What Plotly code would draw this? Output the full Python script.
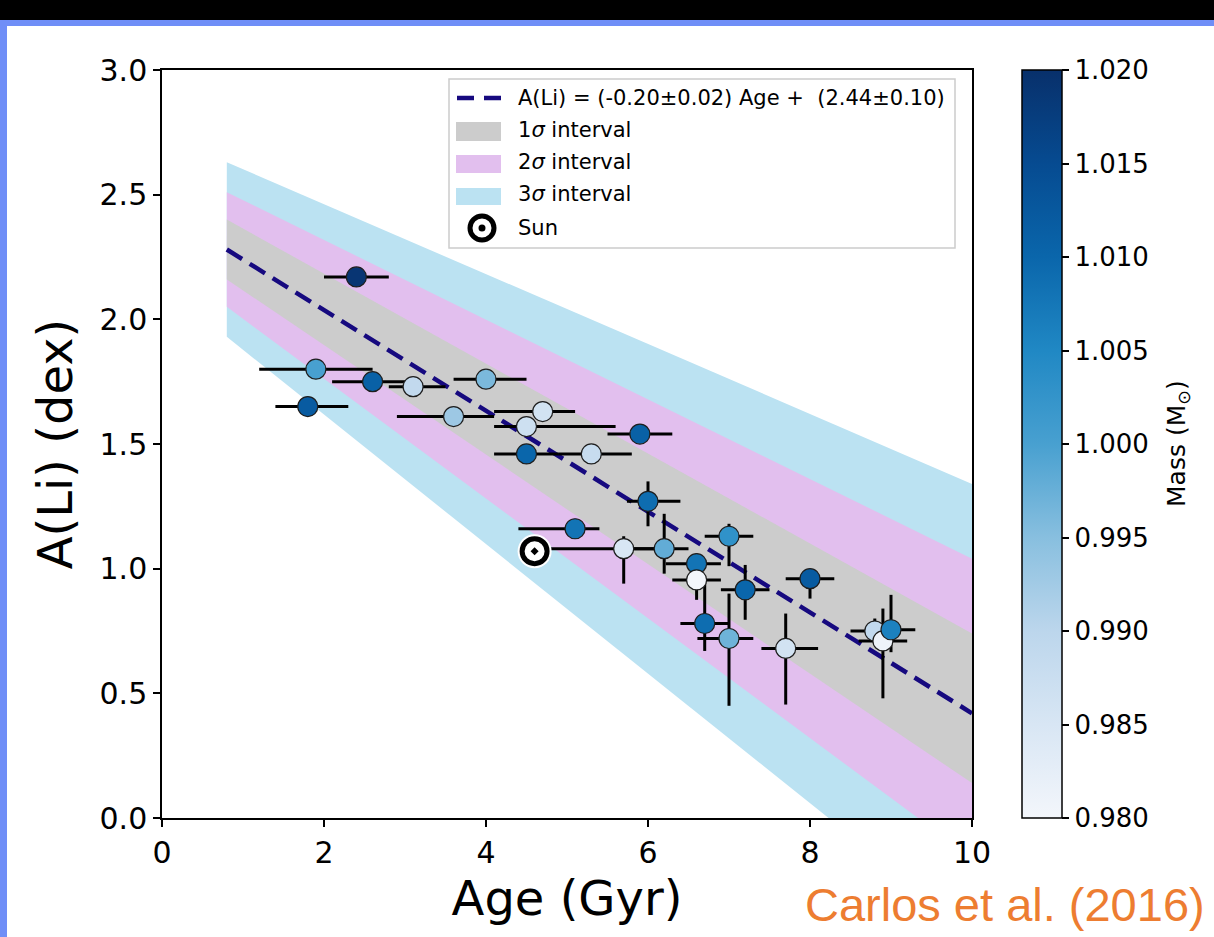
import plotly.graph_objects as go

# ---------------- data ----------------
age = [2.40, 1.90, 2.60, 1.80, 3.10, 4.00, 3.60, 4.70, 4.50, 4.50, 5.30, 5.90, 6.00, 5.10,
       5.70, 6.20, 6.60, 6.60, 7.00, 7.20, 8.00, 6.70, 7.00, 7.70, 8.80, 8.90, 9.00]
ali = [2.17, 1.80, 1.75, 1.65, 1.73, 1.76, 1.61, 1.63, 1.57, 1.46, 1.46, 1.54, 1.27, 1.16,
       1.08, 1.08, 1.02, 0.955, 1.13, 0.915, 0.96, 0.78, 0.72, 0.68, 0.75, 0.71, 0.755]
age_err_minus = [0.40, 0.70, 0.50, 0.40, 0.30, 0.40, 0.70, 0.60, 0.40, 0.40, 0.40, 0.40, 0.26, 0.70,
                 0.90, 0.40, 0.38, 0.30, 0.30, 0.30, 0.30, 0.30, 0.39, 0.30, 0.30, 0.30, 0.30]
age_err_plus = [0.40, 0.70, 0.42, 0.50, 0.40, 0.50, 0.50, 0.40, 1.10, 0.40, 0.50, 0.40, 0.40, 0.30,
                0.40, 0.30, 0.30, 0.30, 0.30, 0.30, 0.30, 0.30, 0.30, 0.40, 0.30, 0.30, 0.30]
ali_err_minus = [0.0, 0.0, 0.0, 0.0, 0.0, 0.0, 0.0, 0.0, 0.0, 0.0, 0.0, 0.0, 0.10, 0.04,
                 0.14, 0.10, 0.06, 0.08, 0.12, 0.12, 0.08, 0.11, 0.27, 0.225, 0.03, 0.23, 0.09]
ali_err_plus = [0.0, 0.0, 0.0, 0.0, 0.0, 0.0, 0.0, 0.0, 0.0, 0.0, 0.0, 0.0, 0.08, 0.04,
                0.05, 0.14, 0.04, 0.03, 0.05, 0.10, 0.03, 0.175, 0.18, 0.14, 0.05, 0.13, 0.14]
mass = [1.019, 1.000, 1.011, 1.012, 0.989, 0.996, 0.993, 0.986, 0.987, 1.010, 0.988, 1.011, 1.009, 1.008,
        0.985, 0.998, 1.008, 0.980, 1.003, 1.010, 1.012, 1.009, 0.997, 0.986, 0.989, 0.981, 1.006]

sun_age = [4.60]
sun_ali = [1.07]

fit_age = [0.8, 10.0]
fit_ali = [2.28, 0.42]
band1_hi = [2.40, 0.74]
band1_lo = [2.16, 0.14]
band2_hi = [2.51, 1.04]
band2_lo = [2.05, -0.16]
band3_hi = [2.63, 1.34]
band3_lo = [1.93, -0.46]

x_ticks = [0, 2, 4, 6, 8, 10]
y_ticks = [0.0, 0.5, 1.0, 1.5, 2.0, 2.5, 3.0]
mass_ticks = [0.980, 0.985, 0.990, 0.995, 1.000, 1.005, 1.010, 1.015, 1.020]
mass_tick_labels = ["0.980", "0.985", "0.990", "0.995", "1.000", "1.005", "1.010", "1.015", "1.020"]

legend_labels = ["A(Li) = (-0.20±0.02) Age + \u00a0(2.44±0.10)",
                 "1<i>σ</i> interval", "2<i>σ</i> interval", "3<i>σ</i> interval", "Sun"]

# ---------------- layout helpers ----------------
W, H = 1214, 937
L, R, T, B = 162, 242, 70, 119
PW, PH = W - L - R, H - T - B


def fx(p):
    return (p - L) / PW


def fy(p):
    return (H - B - p) / PH


FONT = "DejaVu Sans"
C_GRAY = "#cccccc"
C_PINK = "#e2bfee"
C_BLUE = "#bbe2f2"
C_LINE = "#16097f"

cscale = [
    [0.000, "#f3f6fb"],
    [0.125, "#d8e6f4"],
    [0.250, "#bcd6ec"],
    [0.375, "#88bfdf"],
    [0.500, "#48a0d0"],
    [0.625, "#2088c4"],
    [0.750, "#0a66ab"],
    [0.875, "#064b91"],
    [1.000, "#08306b"],
]

fig = go.Figure()

for hi, lo, col in [(band3_hi, band3_lo, C_BLUE), (band2_hi, band2_lo, C_PINK), (band1_hi, band1_lo, C_GRAY)]:
    fig.add_trace(go.Scatter(
        x=fit_age + fit_age[::-1], y=hi + lo[::-1], mode="lines",
        fill="toself", fillcolor=col, line=dict(width=0, color=col),
        hoverinfo="skip", showlegend=False))

fig.add_trace(go.Scatter(
    x=fit_age, y=fit_ali, mode="lines",
    line=dict(color=C_LINE, width=4.5, dash="18px,9px"),
    showlegend=False))

fig.add_trace(go.Scatter(
    x=age, y=ali, mode="markers",
    error_x=dict(type="data", symmetric=False, array=age_err_plus, arrayminus=age_err_minus,
                 color="black", thickness=3, width=0),
    error_y=dict(type="data", symmetric=False, array=ali_err_plus, arrayminus=ali_err_minus,
                 color="black", thickness=3, width=0),
    marker=dict(size=20, color=mass, colorscale=cscale, cmin=0.98, cmax=1.02,
                line=dict(color="#1e1e1e", width=1.2),
                showscale=True,
                colorbar=dict(
                    x=fx(1022), xanchor="left", xpad=0, y=0.5, yanchor="middle", ypad=0,
                    len=1, lenmode="fraction", thickness=40, thicknessmode="pixels",
                    outlinecolor="black", outlinewidth=1.5,
                    ticks="outside", ticklen=7, tickwidth=1.5, tickcolor="black",
                    tickvals=mass_ticks, ticktext=mass_tick_labels,
                    tickfont=dict(family=FONT, size=26, color="black"))),
    showlegend=False))

# Sun
fig.add_trace(go.Scatter(x=sun_age, y=sun_ali, mode="markers",
                         marker=dict(symbol="circle", size=34, color="white", line=dict(width=0)),
                         hoverinfo="skip", showlegend=False))
fig.add_trace(go.Scatter(x=sun_age, y=sun_ali, mode="markers",
                         marker=dict(symbol="circle-dot", size=25, color="white",
                                     line=dict(color="black", width=5)),
                         showlegend=False))

shapes = []
annotations = []

# page frame (slide background)
shapes.append(dict(type="rect", xref="paper", yref="paper", x0=fx(0), x1=fx(W), y0=fy(0), y1=fy(20),
                   fillcolor="black", line=dict(width=0), layer="above"))
shapes.append(dict(type="rect", xref="paper", yref="paper", x0=fx(0), x1=fx(W), y0=fy(20), y1=fy(26),
                   fillcolor="#6f8ef7", line=dict(width=0), layer="above"))
shapes.append(dict(type="rect", xref="paper", yref="paper", x0=fx(0), x1=fx(7), y0=fy(20), y1=fy(H),
                   fillcolor="#6f8ef7", line=dict(width=0), layer="above"))

# manual legend
shapes.append(dict(type="rect", xref="paper", yref="paper", x0=fx(449), x1=fx(955), y0=fy(79), y1=fy(248),
                   fillcolor="white", line=dict(color="#cccccc", width=1.5), layer="above"))
shapes.append(dict(type="line", xref="paper", yref="paper", x0=fx(457), x1=fx(501), y0=fy(98), y1=fy(98),
                   line=dict(color=C_LINE, width=4.5, dash="17px,10px"), layer="above"))
for (y0, y1), col in [((122, 141), C_GRAY), ((155, 173), C_PINK), ((188, 205), C_BLUE)]:
    shapes.append(dict(type="rect", xref="paper", yref="paper", x0=fx(456), x1=fx(501), y0=fy(y0), y1=fy(y1),
                       fillcolor=col, line=dict(width=0), layer="above"))
shapes.append(dict(type="circle", xref="paper", yref="paper", x0=fx(482 - 12), x1=fx(482 + 12),
                   y0=fy(228 - 12), y1=fy(228 + 12), fillcolor="white",
                   line=dict(color="black", width=5), layer="above"))
shapes.append(dict(type="circle", xref="paper", yref="paper", x0=fx(482 - 3.5), x1=fx(482 + 3.5),
                   y0=fy(228 - 3.5), y1=fy(228 + 3.5), fillcolor="black",
                   line=dict(color="black", width=0), layer="above"))

for txt, yp in zip(legend_labels, [98, 130, 162, 194, 228]):
    annotations.append(dict(text=txt, xref="paper", yref="paper", x=fx(516), y=fy(yp),
                            xanchor="left", yanchor="middle", showarrow=False,
                            font=dict(family=FONT, size=21, color="black")))

# colour bar title
annotations.append(dict(text="Mass (M<sub>⊙</sub>)", xref="paper", yref="paper",
                        x=fx(1178), y=fy(444), xanchor="center", yanchor="middle",
                        textangle=-90, showarrow=False,
                        font=dict(family=FONT, size=25, color="black")))

annotations.append(dict(text="Carlos et al. (2016)", xref="paper", yref="paper",
                        x=fx(1207), y=fy(904), xanchor="right", yanchor="middle", showarrow=False,
                        font=dict(family="Liberation Sans", size=47, color="#ED7D31")))

axis_common = dict(showline=True, mirror=True, linecolor="black", linewidth=1.5,
                   ticks="outside", ticklen=7, tickwidth=1.5, tickcolor="black",
                   showgrid=False, zeroline=False)

fig.update_layout(
    width=W, height=H,
    margin=dict(l=L, r=R, t=T, b=B),
    paper_bgcolor="white", plot_bgcolor="white",
    font=dict(family=FONT, color="black"),
    showlegend=False,
    xaxis=dict(range=[0, 10], tickvals=x_ticks, tickfont=dict(size=30),
               title=dict(text="Age (Gyr)", font=dict(size=48), standoff=12), **axis_common),
    yaxis=dict(range=[0, 3], tickvals=y_ticks, tickformat=".1f", tickfont=dict(size=30),
               title=dict(text="A(Li) (dex)", font=dict(size=48), standoff=12), **axis_common),
    shapes=shapes,
    annotations=annotations,
)

fig.write_html("out.html")
